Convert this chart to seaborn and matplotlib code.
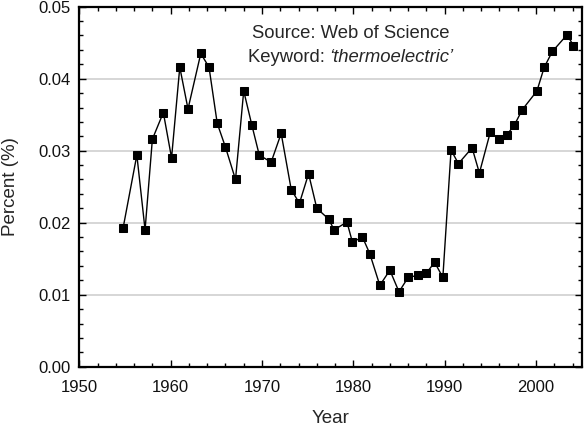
import matplotlib
matplotlib.use("Agg")
import matplotlib.pyplot as plt
import seaborn as sns
import pandas as pd
from matplotlib.ticker import MultipleLocator, FormatStrFormatter

years = [1954.8, 1956.3, 1957.2, 1958.0, 1959.2, 1960.1, 1961.0, 1961.9, 1963.3, 1964.2,
         1965.1, 1966.0, 1967.1, 1968.0, 1968.9, 1969.7, 1971.0, 1972.1, 1973.2, 1974.1,
         1975.1, 1976.0, 1977.3, 1977.9, 1979.3, 1979.9, 1981.0, 1981.8, 1982.9, 1984.0,
         1985.0, 1986.0, 1987.1, 1988.0, 1988.9, 1989.8, 1990.7, 1991.5, 1993.0, 1993.8,
         1995.0, 1995.9, 1996.8, 1997.6, 1998.5, 2000.1, 2000.9, 2001.8, 2003.4, 2004.1]
percent = [0.0193, 0.0294, 0.0190, 0.0316, 0.0353, 0.0290, 0.0416, 0.0358, 0.0435, 0.0416,
           0.0338, 0.0305, 0.0260, 0.0383, 0.0335, 0.0294, 0.0284, 0.0324, 0.0246, 0.0227,
           0.0268, 0.0220, 0.0205, 0.0190, 0.0201, 0.0173, 0.0180, 0.0157, 0.0113, 0.0134,
           0.0104, 0.0124, 0.0127, 0.0130, 0.0145, 0.0124, 0.0301, 0.0282, 0.0304, 0.0269,
           0.0326, 0.0316, 0.0322, 0.0335, 0.0357, 0.0383, 0.0416, 0.0438, 0.0461, 0.0446]

source_text = "Source: Web of Science"
keyword_label = "Keyword: "
keyword_value = "‘thermoelectric’"

sns.set_style("white")
plt.rcParams['font.family'] = ['Liberation Sans', 'DejaVu Sans']

df = pd.DataFrame({"Year": years, "Percent": percent})

fig = plt.figure(figsize=(5.87, 4.36), dpi=100)
ax = fig.add_axes([79.3 / 587, (436 - 366.7) / 436, 502.4 / 587, 360 / 436])

sns.lineplot(data=df, x="Year", y="Percent", ax=ax, color="black", linewidth=1.0,
             marker="s", markersize=5.4, markeredgecolor="black", markerfacecolor="black",
             estimator=None, sort=False)

ax.set_xlim(1950, 2005)
ax.set_ylim(0, 0.05)
ax.xaxis.set_major_locator(MultipleLocator(10))
ax.xaxis.set_minor_locator(MultipleLocator(2))
ax.yaxis.set_major_locator(MultipleLocator(0.01))
ax.yaxis.set_minor_locator(MultipleLocator(0.002))
ax.yaxis.set_major_formatter(FormatStrFormatter('%.2f'))

ax.grid(False)
ax.yaxis.grid(True, which='major', color='#d0d0d0', linewidth=1.2)
ax.set_axisbelow(True)

for s in ax.spines.values():
    s.set_visible(True)
    s.set_color('black')
    s.set_linewidth(1.6)

ax.tick_params(which='both', direction='in', top=True, right=True, bottom=True, left=True,
               color='black', labelsize=12, labelcolor='#111111')
ax.tick_params(which='major', length=5, width=1.0)
ax.tick_params(axis='x', which='major', pad=9.5)
ax.tick_params(axis='y', which='major', pad=6)
ax.tick_params(which='minor', length=3, width=1.0)

ax.set_xlabel("Year", fontsize=13.5, labelpad=11)
ax.set_ylabel("Percent (%)", fontsize=13.5, labelpad=14)

ax.text(0.54, 0.925, source_text, transform=ax.transAxes, ha='center', va='center', fontsize=13.3)

# second line: normal label + italic keyword, centred together
fig.canvas.draw()
renderer = fig.canvas.get_renderer()
t1 = ax.text(0, 0.86, keyword_label, transform=ax.transAxes, ha='left', va='center', fontsize=13.3)
t2 = ax.text(0, 0.86, keyword_value, transform=ax.transAxes, ha='left', va='center',
             fontsize=13.3, style='italic')
w1 = t1.get_window_extent(renderer).width
w2 = t2.get_window_extent(renderer).width
axw = ax.get_window_extent(renderer).width
total = (w1 + w2) / axw
x0 = 0.54 - total / 2
t1.set_x(x0)
t2.set_x(x0 + w1 / axw)

fig.savefig("out.png", dpi=100)
